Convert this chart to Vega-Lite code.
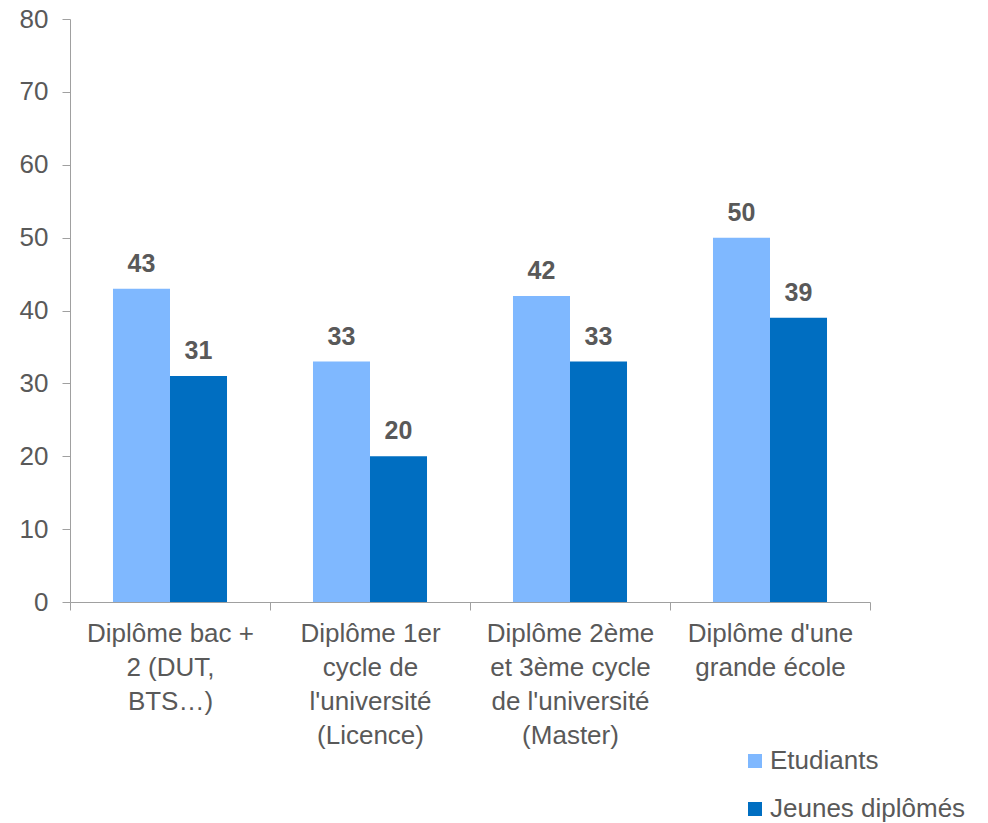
{
  "$schema": "https://vega.github.io/schema/vega-lite/v6.json",
  "autosize": "none",
  "width": 800,
  "height": 583,
  "padding": {"left": 70, "top": 19, "right": 118, "bottom": 221},
  "background": "white",
  "config": {
    "view": {"stroke": null},
    "font": "Liberation Sans",
    "axis": {"grid": false, "domainColor": "#A0A0A0", "tickColor": "#A0A0A0", "labelColor": "#595959", "labelFont": "Liberation Sans", "labelFontSize": 26, "title": null, "tickSize": 8}
  },
  "data": {
    "values": [
      {"cat": "Diplôme bac +|2 (DUT,|BTS…)", "serie": "Etudiants", "v": 43},
      {"cat": "Diplôme bac +|2 (DUT,|BTS…)", "serie": "Jeunes diplômés", "v": 31},
      {"cat": "Diplôme 1er|cycle de|l'université|(Licence)", "serie": "Etudiants", "v": 33},
      {"cat": "Diplôme 1er|cycle de|l'université|(Licence)", "serie": "Jeunes diplômés", "v": 20},
      {"cat": "Diplôme 2ème|et 3ème cycle|de l'université|(Master)", "serie": "Etudiants", "v": 42},
      {"cat": "Diplôme 2ème|et 3ème cycle|de l'université|(Master)", "serie": "Jeunes diplômés", "v": 33},
      {"cat": "Diplôme  d'une|grande école", "serie": "Etudiants", "v": 50},
      {"cat": "Diplôme  d'une|grande école", "serie": "Jeunes diplômés", "v": 39}
    ]
  },
  "encoding": {
    "x": {
      "field": "cat", "type": "nominal", "sort": null,
      "scale": {"paddingInner": 0, "paddingOuter": 0},
      "axis": {"labelAngle": 0, "labelExpr": "split(datum.label, '|')", "labelLineHeight": 34, "labelPadding": 10, "tickBand": "extent", "labelLimit": 300}
    },
    "xOffset": {"field": "serie", "type": "nominal", "scale": {"paddingInner": 0, "paddingOuter": 0.754}},
    "y": {
      "field": "v", "type": "quantitative",
      "scale": {"domain": [0, 80], "nice": false},
      "axis": {"values": [0, 10, 20, 30, 40, 50, 60, 70, 80], "labelPadding": 14}
    }
  },
  "layer": [
    {
      "mark": {"type": "bar"},
      "encoding": {
        "color": {
          "field": "serie", "type": "nominal",
          "scale": {"domain": ["Etudiants", "Jeunes diplômés"], "range": ["#7FB8FF", "#006EC1"]},
          "legend": {
            "title": null, "orient": "none", "legendX": 672, "legendY": 729,
            "symbolType": "square", "symbolSize": 196, "symbolStrokeWidth": 0,
            "labelFontSize": 26, "labelColor": "#595959", "labelFont": "Liberation Sans",
            "rowPadding": 22, "labelOffset": 2, "labelLimit": 400
          }
        }
      }
    },
    {
      "mark": {"type": "text", "baseline": "bottom", "dy": -12, "fontSize": 25, "fontWeight": "bold", "color": "#595959", "font": "Liberation Sans"},
      "encoding": {"text": {"field": "v", "type": "quantitative"}}
    }
  ]
}
